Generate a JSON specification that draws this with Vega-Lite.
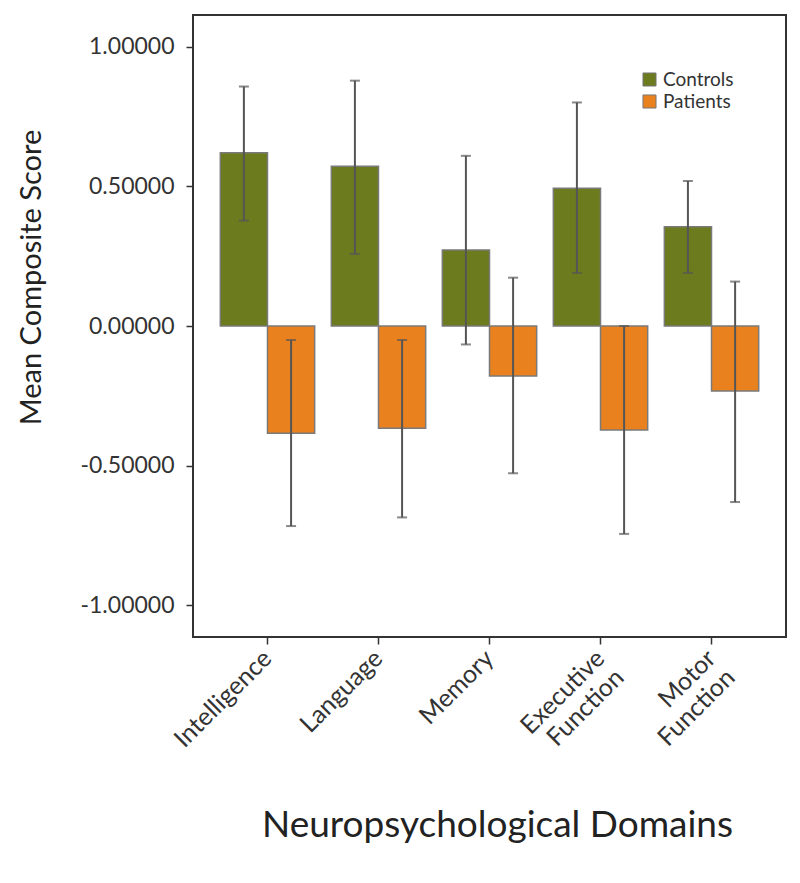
{
  "$schema": "https://vega.github.io/schema/vega-lite/v6.json",
  "width": 593,
  "height": 622,
  "autosize": {"type": "none"},
  "padding": {"left": 193, "top": 15, "right": 14, "bottom": 246},
  "background": "white",
  "config": {
    "font": "Lato",
    "view": {"stroke": "#333333", "strokeWidth": 2}
  },
  "data": {
    "values": [
      {"domain": "Intelligence", "group": "Controls", "mean": 0.62, "lo": 0.377, "hi": 0.857},
      {"domain": "Intelligence", "group": "Patients", "mean": -0.384, "lo": -0.716, "hi": -0.05},
      {"domain": "Language", "group": "Controls", "mean": 0.572, "lo": 0.258, "hi": 0.878},
      {"domain": "Language", "group": "Patients", "mean": -0.366, "lo": -0.685, "hi": -0.05},
      {"domain": "Memory", "group": "Controls", "mean": 0.272, "lo": -0.066, "hi": 0.609},
      {"domain": "Memory", "group": "Patients", "mean": -0.179, "lo": -0.527, "hi": 0.173},
      {"domain": "Executive Function", "group": "Controls", "mean": 0.493, "lo": 0.19, "hi": 0.8},
      {"domain": "Executive Function", "group": "Patients", "mean": -0.372, "lo": -0.744, "hi": 0.0},
      {"domain": "Motor Function", "group": "Controls", "mean": 0.355, "lo": 0.19, "hi": 0.519},
      {"domain": "Motor Function", "group": "Patients", "mean": -0.233, "lo": -0.63, "hi": 0.159}
    ]
  },
  "encoding": {
    "x": {
      "field": "domain",
      "type": "nominal",
      "sort": ["Intelligence", "Language", "Memory", "Executive Function", "Motor Function"],
      "scale": {"paddingInner": 0.15, "paddingOuter": 0.246},
      "axis": {
        "title": "Neuropsychological Domains",
        "labelAngle": -45,
        "labelAlign": "right",
        "labelBaseline": "middle",
        "labelFontSize": 25,
        "labelColor": "#333333",
        "labelExpr": "split(datum.label, ' ')",
        "labelPadding": 10,
        "tickSize": 7,
        "tickColor": "#333333",
        "tickWidth": 1.5,
        "domain": false,
        "titleFontSize": 37,
        "titleFontWeight": "normal",
        "titleColor": "#222222",
        "titleBaseline": "alphabetic",
        "titleX": 304,
        "titleY": 199
      }
    },
    "xOffset": {"field": "group", "type": "nominal", "sort": ["Controls", "Patients"]}
  },
  "layer": [
    {
      "mark": {"type": "bar", "stroke": "#7a7a7a", "strokeWidth": 1.5},
      "encoding": {
        "y": {
          "field": "mean",
          "type": "quantitative",
          "scale": {"domain": [-1.113, 1.113], "nice": false},
          "axis": {
            "title": "Mean Composite Score",
            "labelExpr": "replace(format(datum.value, '.5f'), '−', '-')",
            "values": [-1, -0.5, 0, 0.5, 1],
            "grid": false,
            "domain": false,
            "tickSize": 7,
            "tickColor": "#333333",
            "tickWidth": 1.5,
            "labelFontSize": 23,
            "labelColor": "#333333",
            "labelPadding": 12,
            "titleFontSize": 29,
            "titleFontWeight": "normal",
            "titleColor": "#222222",
            "titleX": -147,
            "titleY": 262
          }
        },
        "color": {
          "field": "group",
          "type": "nominal",
          "sort": ["Controls", "Patients"],
          "scale": {"domain": ["Controls", "Patients"], "range": ["#6b7b1e", "#e9811f"]},
          "legend": {
            "orient": "none",
            "legendX": 447,
            "legendY": 55,
            "title": null,
            "labelFontSize": 19,
            "labelColor": "#333333",
            "symbolType": "square",
            "symbolSize": 170,
            "symbolStrokeColor": "#777777",
            "symbolStrokeWidth": 1,
            "labelOffset": 4,
            "rowPadding": 2
          }
        }
      }
    },
    {
      "mark": {"type": "rule", "color": "#555555", "strokeWidth": 2},
      "encoding": {
        "y": {"field": "lo", "type": "quantitative"},
        "y2": {"field": "hi"}
      }
    },
    {
      "mark": {"type": "tick", "color": "#555555", "thickness": 2, "size": 10, "orient": "horizontal"},
      "encoding": {"y": {"field": "lo", "type": "quantitative"}}
    },
    {
      "mark": {"type": "tick", "color": "#555555", "thickness": 2, "size": 10, "orient": "horizontal"},
      "encoding": {"y": {"field": "hi", "type": "quantitative"}}
    }
  ]
}
